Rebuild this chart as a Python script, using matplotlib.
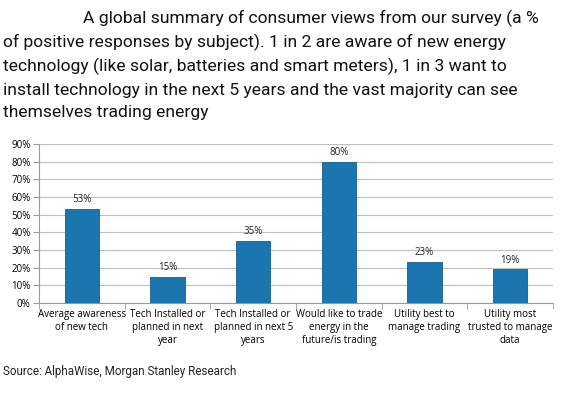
import matplotlib
matplotlib.use("Agg")
import matplotlib.pyplot as plt
import numpy as np

categories = ["Average awareness\nof new tech", "Tech Installed or\nplanned in next\nyear",
              "Tech Installed or\nplanned in next 5\nyears", "Would like to trade\nenergy in the\nfuture/is trading",
              "Utility best to\nmanage trading", "Utility most\ntrusted to manage\ndata"]
values = [53, 15, 35, 80, 23, 19]
yticks = [0, 10, 20, 30, 40, 50, 60, 70, 80, 90]

title_lines = ["A global summary of consumer views from our survey (a %",
               "of positive responses by subject). 1 in 2 are aware of new energy",
               "technology (like solar, batteries and smart meters), 1 in 3 want to",
               "install technology in the next 5 years and the vast majority can see",
               "themselves trading energy"]
source = "Source: AlphaWise, Morgan Stanley Research"

fig = plt.figure(figsize=(5.63, 3.93), dpi=100)
ax = fig.add_axes([39/563, 1-303/393, (553-39)/563, (303-144)/393])

x = np.arange(len(categories))
ax.bar(x, values, width=0.4, color="#1B75AE", edgecolor="#155E8C", linewidth=0.6, zorder=3)
for xi, v in zip(x, values):
    ax.text(xi, v + 2.2, f"{v}%", ha="center", va="bottom", fontsize=7, family="Open Sans", color="#222222")

ax.set_xlim(-0.5, len(categories) - 0.5)
ax.set_ylim(0, 90)
ax.set_yticks(yticks)
ax.set_yticklabels([f"{t}%" for t in yticks], fontsize=7, family="Open Sans")
ax.yaxis.grid(True, color="#BFBFBF", linewidth=0.8, zorder=0)
ax.set_xticks(x)
ax.set_xticklabels(categories, fontsize=7, family="Open Sans", linespacing=1.25)
ax.tick_params(axis="x", length=0, pad=4)
ax.set_xticks(np.arange(-0.5, len(categories), 1), minor=True)
ax.tick_params(axis="x", which="minor", length=4, color="#999999")
ax.tick_params(axis="y", length=4, color="#999999", pad=2)
for s in ["top", "right"]:
    ax.spines[s].set_visible(False)
ax.spines["left"].set_color("#999999")
ax.spines["bottom"].set_color("#999999")

line_y = [18, 42, 66, 90, 113]
for i, (ln, yy) in enumerate(zip(title_lines, line_y)):
    x0 = 83 if i == 0 else 3
    fig.text(x0/563, 1-yy/393, ln, ha="left", va="center", fontsize=12.6, family="Roboto", color="#111111")
fig.text(3/563, 1-372/393, source, ha="left", va="center", fontsize=8.4, family="Roboto", color="#222222")

fig.savefig("out.png", dpi=100)
